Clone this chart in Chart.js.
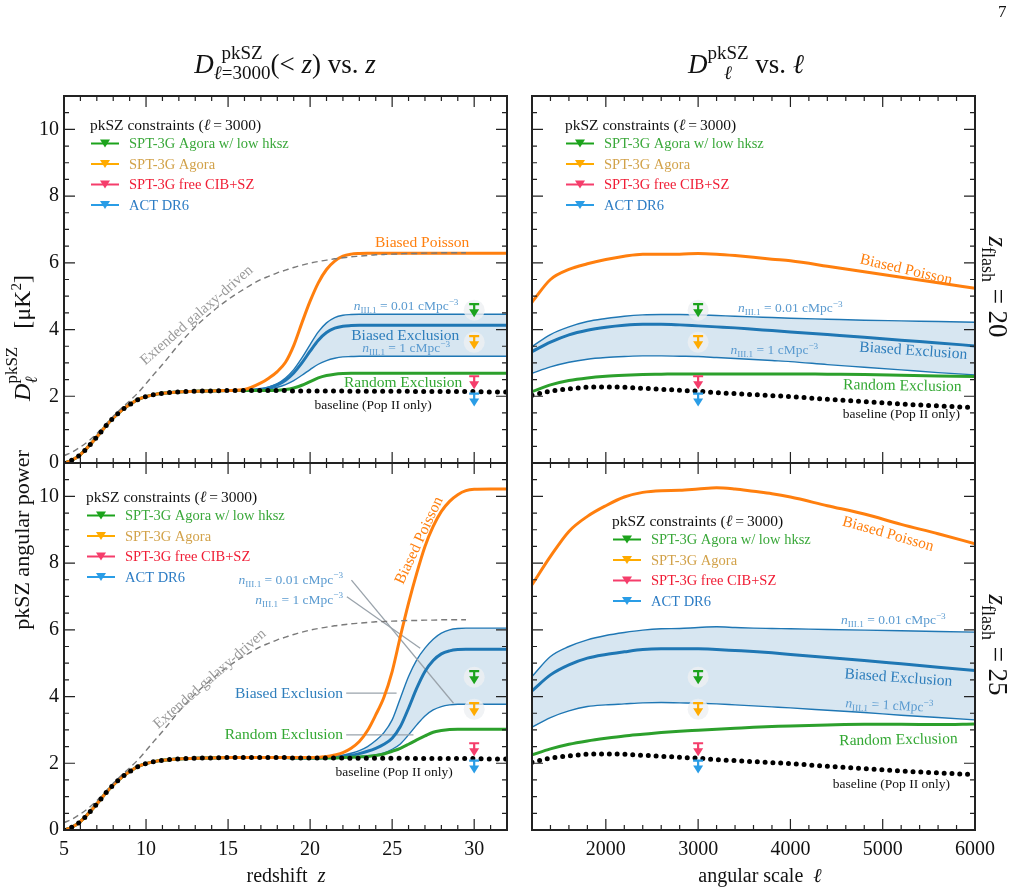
<!DOCTYPE html>
<html>
<head>
<meta charset="utf-8">
<script src="https://cdn.jsdelivr.net/npm/chart.js@4.4.0/dist/chart.umd.min.js"></script>
<style>
  body { margin: 0; background: #fff; }
  #wrap { position: relative; width: 1028px; height: 894px; overflow: hidden;
          font-family: "Liberation Serif", serif; color: #111; }
  canvas { position: absolute; left: 0; top: 0; }
  .t { position: absolute; white-space: nowrap; }
  .st { display: inline-flex; flex-direction: column; line-height: 20px; vertical-align: 14px; }
</style>
</head>
<body>
<div id="wrap">
  <canvas id="tl" width="1028" height="894"></canvas>
  <canvas id="tr" width="1028" height="894"></canvas>
  <canvas id="bl" width="1028" height="894"></canvas>
  <canvas id="br" width="1028" height="894"></canvas>

  <div class="t" style="left:85px;top:43px;width:400px;text-align:center;font-size:27px">
    <i>D</i><span class="st" style="font-size:19px"><span>pkSZ</span><span><i>ℓ</i>=3000</span></span>(&lt; <i>z</i>) vs. <i>z</i>
  </div>
  <div class="t" style="left:546px;top:43px;width:400px;text-align:center;font-size:27px">
    <i>D</i><span class="st" style="font-size:19px"><span>pkSZ</span><span><i>ℓ</i></span></span> vs. <i>ℓ</i>
  </div>
  <div class="t" style="left:22px;top:540px;transform:translate(-50%,-50%) rotate(-90deg);font-size:22px">pkSZ angular power</div>
  <div class="t" style="left:22px;top:338px;transform:translate(-50%,-50%) rotate(-90deg);font-size:24px">
    <i>D</i><span class="st" style="font-size:17px;vertical-align:13px"><span>pkSZ</span><span><i>ℓ</i></span></span>&nbsp;&nbsp;&nbsp;[μK<sup style="font-size:15px">2</sup>]
  </div>
  <div class="t" style="left:995px;top:287px;transform:translate(-50%,-50%) rotate(90deg);font-size:27px">
    <i>z</i><sub style="font-size:18px">flash</sub> = 20
  </div>
  <div class="t" style="left:995px;top:645px;transform:translate(-50%,-50%) rotate(90deg);font-size:27px">
    <i>z</i><sub style="font-size:18px">flash</sub> = 25
  </div>
  <div class="t" style="left:186px;top:864px;width:200px;text-align:center;font-size:20px">redshift&nbsp;&nbsp;<i>z</i></div>
  <div class="t" style="left:660px;top:864px;width:200px;text-align:center;font-size:20px">angular scale&nbsp;&nbsp;<i>ℓ</i></div>
  <div class="t" style="left:998px;top:2px;font-size:17px">7</div>
</div>

<script>
// redshift grid (left panels)
const Z = [5, 5.5, 6, 6.5, 7, 7.5, 8, 8.5, 9, 9.5, 10, 10.5, 11, 12, 13, 14, 15, 16, 17, 17.5,
  18, 18.5, 19, 19.5, 20, 20.5, 21, 21.5, 22, 22.5, 23, 23.5, 24, 24.5, 25, 25.5, 26, 26.5,
  27, 27.5, 28, 28.5, 29, 29.5, 30, 31, 32];

const BASE_Z = [0, 0.09, 0.25, 0.5, 0.78, 1.08, 1.35, 1.57, 1.75, 1.9, 1.99, 2.05, 2.09, 2.13,
  2.15, 2.16, 2.17, 2.17, 2.17, 2.17, 2.17, 2.17, 2.16, 2.16, 2.16, 2.16, 2.16, 2.16, 2.16,
  2.15, 2.15, 2.15, 2.15, 2.15, 2.15, 2.15, 2.15, 2.14, 2.14, 2.14, 2.14, 2.14, 2.14, 2.14,
  2.14, 2.13, 2.13];

const GALAXY_Z = [0.22, 0.33, 0.48, 0.66, 0.88, 1.14, 1.4, 1.64, 1.86, 2.1, 2.38, 2.67, 2.95,
  3.55, 4.08, 4.52, 4.9, 5.22, 5.5, 5.6, 5.7, 5.78, 5.86, 5.93, 5.99, 6.04, 6.08, 6.12, 6.15,
  6.18, 6.2, 6.22, 6.24, 6.25, 6.26, 6.27, 6.28, 6.28, 6.29, 6.29, 6.3, 6.3, 6.3, 6.3,
  null, null, null];

// z_flash = 20
const POISSON_Z20 = [0, 0.09, 0.25, 0.5, 0.78, 1.08, 1.35, 1.57, 1.75, 1.9, 1.99, 2.05, 2.09,
  2.13, 2.15, 2.16, 2.17, 2.2, 2.4, 2.55, 2.74, 3.02, 3.52, 4.2, 4.85, 5.4, 5.8, 6.05, 6.2,
  6.26, 6.28, 6.29, 6.29, 6.29, 6.29, 6.29, 6.29, 6.29, 6.29, 6.29, 6.29, 6.29, 6.29, 6.29,
  6.29, 6.29, 6.29];
const EXCL_HI_Z20 = [0, 0.09, 0.25, 0.5, 0.78, 1.08, 1.35, 1.57, 1.75, 1.9, 1.99, 2.05, 2.09,
  2.13, 2.15, 2.16, 2.17, 2.18, 2.22, 2.28, 2.38, 2.55, 2.8, 3.15, 3.55, 3.93, 4.2, 4.36, 4.43,
  4.45, 4.46, 4.46, 4.46, 4.46, 4.46, 4.46, 4.46, 4.46, 4.46, 4.46, 4.46, 4.46, 4.46, 4.46,
  4.46, 4.46, 4.46];
const EXCL_Z20 = [0, 0.09, 0.25, 0.5, 0.78, 1.08, 1.35, 1.57, 1.75, 1.9, 1.99, 2.05, 2.09,
  2.13, 2.15, 2.16, 2.17, 2.18, 2.21, 2.26, 2.34, 2.48, 2.7, 3.0, 3.35, 3.68, 3.91, 4.04, 4.1,
  4.12, 4.13, 4.13, 4.13, 4.13, 4.13, 4.13, 4.13, 4.13, 4.13, 4.13, 4.13, 4.13, 4.13, 4.13,
  4.13, 4.13, 4.13];
const EXCL_LO_Z20 = [0, 0.09, 0.25, 0.5, 0.78, 1.08, 1.35, 1.57, 1.75, 1.9, 1.99, 2.05, 2.09,
  2.13, 2.15, 2.16, 2.17, 2.17, 2.19, 2.22, 2.27, 2.35, 2.47, 2.63, 2.8, 2.96, 3.07, 3.14, 3.18,
  3.19, 3.2, 3.2, 3.2, 3.2, 3.2, 3.2, 3.2, 3.2, 3.2, 3.2, 3.2, 3.2, 3.2, 3.2, 3.2, 3.2, 3.2];
const RANDOM_Z20 = [0, 0.09, 0.25, 0.5, 0.78, 1.08, 1.35, 1.57, 1.75, 1.9, 1.99, 2.05, 2.09,
  2.13, 2.15, 2.16, 2.17, 2.17, 2.17, 2.17, 2.18, 2.2, 2.25, 2.33, 2.44, 2.55, 2.62, 2.66, 2.68,
  2.69, 2.69, 2.69, 2.69, 2.69, 2.69, 2.69, 2.69, 2.69, 2.69, 2.69, 2.69, 2.69, 2.69, 2.69,
  2.69, 2.69, 2.69];

// z_flash = 25
const POISSON_Z25 = [0, 0.09, 0.25, 0.5, 0.78, 1.08, 1.35, 1.57, 1.75, 1.9, 1.99, 2.05, 2.09,
  2.13, 2.15, 2.16, 2.17, 2.17, 2.17, 2.17, 2.17, 2.17, 2.17, 2.17, 2.17, 2.18, 2.2, 2.25, 2.32,
  2.45, 2.65, 2.98, 3.45, 3.98, 4.75, 5.8, 6.8, 7.7, 8.5, 9.1, 9.55, 9.85, 10.05, 10.17, 10.21,
  10.22, 10.22];
const EXCL_HI_Z25 = [0, 0.09, 0.25, 0.5, 0.78, 1.08, 1.35, 1.57, 1.75, 1.9, 1.99, 2.05, 2.09,
  2.13, 2.15, 2.16, 2.17, 2.17, 2.17, 2.17, 2.17, 2.17, 2.16, 2.16, 2.16, 2.17, 2.18, 2.2, 2.24,
  2.3, 2.38, 2.5, 2.68, 2.92, 3.3, 3.95, 4.6, 5.1, 5.45, 5.72, 5.9, 6.0, 6.04, 6.05, 6.05,
  6.05, 6.05];
const EXCL_Z25 = [0, 0.09, 0.25, 0.5, 0.78, 1.08, 1.35, 1.57, 1.75, 1.9, 1.99, 2.05, 2.09,
  2.13, 2.15, 2.16, 2.17, 2.17, 2.17, 2.17, 2.17, 2.17, 2.16, 2.16, 2.16, 2.16, 2.17, 2.18, 2.21,
  2.24, 2.29, 2.36, 2.45, 2.57, 2.75, 3.1, 3.65, 4.25, 4.75, 5.08, 5.28, 5.37, 5.41, 5.42, 5.42,
  5.42, 5.42];
const EXCL_LO_Z25 = [0, 0.09, 0.25, 0.5, 0.78, 1.08, 1.35, 1.57, 1.75, 1.9, 1.99, 2.05, 2.09,
  2.13, 2.15, 2.16, 2.17, 2.17, 2.17, 2.17, 2.17, 2.17, 2.16, 2.16, 2.16, 2.16, 2.16, 2.17, 2.18,
  2.19, 2.2, 2.22, 2.25, 2.31, 2.42, 2.58, 2.85, 3.15, 3.42, 3.6, 3.7, 3.75, 3.77, 3.77, 3.77,
  3.77, 3.77];
const RANDOM_Z25 = [0, 0.09, 0.25, 0.5, 0.78, 1.08, 1.35, 1.57, 1.75, 1.9, 1.99, 2.05, 2.09,
  2.13, 2.15, 2.16, 2.17, 2.17, 2.17, 2.17, 2.17, 2.17, 2.16, 2.16, 2.16, 2.16, 2.16, 2.16, 2.17,
  2.18, 2.19, 2.2, 2.23, 2.28, 2.36, 2.45, 2.57, 2.7, 2.82, 2.93, 2.98, 3.01, 3.02, 3.02, 3.02,
  3.02, 3.02];

// angular scale grid (right panels)
const ELL = [1200, 1400, 1600, 1800, 2000, 2200, 2400, 2600, 2800, 3000, 3200, 3400, 3600,
  3800, 4000, 4400, 4800, 5200, 5600, 6000];
const BASE_ELL = [2.03, 2.15, 2.22, 2.27, 2.28, 2.27, 2.24, 2.21, 2.18, 2.15, 2.11, 2.08, 2.05,
  2.02, 1.99, 1.91, 1.84, 1.77, 1.71, 1.66];
const POISSON_ELL20 = [4.82, 5.5, 5.8, 5.97, 6.1, 6.2, 6.26, 6.26, 6.26, 6.28, 6.26, 6.22, 6.17,
  6.11, 6.06, 5.9, 5.73, 5.57, 5.4, 5.24];
const EXCL_HI_ELL20 = [3.49, 3.85, 4.08, 4.24, 4.33, 4.4, 4.44, 4.45, 4.45, 4.44, 4.42, 4.4,
  4.38, 4.36, 4.34, 4.31, 4.28, 4.26, 4.24, 4.22];
const EXCL_ELL20 = [3.34, 3.62, 3.84, 3.98, 4.07, 4.13, 4.16, 4.16, 4.14, 4.11, 4.08, 4.05,
  4.01, 3.97, 3.93, 3.85, 3.77, 3.68, 3.6, 3.51];
const EXCL_LO_ELL20 = [2.69, 2.88, 3.02, 3.11, 3.16, 3.19, 3.21, 3.21, 3.2, 3.19, 3.16, 3.13,
  3.1, 3.07, 3.04, 2.95, 2.87, 2.79, 2.71, 2.64];
const RANDOM_ELL20 = [2.14, 2.34, 2.47, 2.55, 2.6, 2.63, 2.65, 2.66, 2.67, 2.67, 2.67, 2.67,
  2.67, 2.67, 2.67, 2.66, 2.65, 2.63, 2.61, 2.59];
const POISSON_ELL25 = [7.35, 8.2, 8.95, 9.4, 9.72, 9.98, 10.12, 10.17, 10.18, 10.22, 10.26,
  10.22, 10.15, 10.08, 9.98, 9.72, 9.47, 9.16, 8.88, 8.58];
const EXCL_HI_ELL25 = [4.6, 5.2, 5.5, 5.7, 5.83, 5.92, 5.99, 6.03, 6.04, 6.07, 6.09, 6.07, 6.05,
  6.04, 6.03, 6.01, 5.99, 5.97, 5.95, 5.93];
const EXCL_ELL25 = [4.17, 4.65, 4.95, 5.15, 5.26, 5.34, 5.41, 5.43, 5.43, 5.43, 5.41, 5.38,
  5.35, 5.31, 5.26, 5.17, 5.08, 4.98, 4.88, 4.78];
const EXCL_LO_ELL25 = [3.08, 3.37, 3.57, 3.7, 3.75, 3.78, 3.81, 3.82, 3.81, 3.8, 3.78, 3.75,
  3.72, 3.69, 3.66, 3.59, 3.52, 3.44, 3.37, 3.3];
const RANDOM_ELL25 = [2.25, 2.43, 2.57, 2.67, 2.75, 2.82, 2.87, 2.92, 2.96, 2.99, 3.02, 3.05,
  3.08, 3.1, 3.12, 3.15, 3.17, 3.17, 3.16, 3.18];

// pkSZ upper limits at l = 3000
const LIMIT_NAMES = ["SPT-3G Agora w/ low hksz", "SPT-3G Agora", "SPT-3G free CIB+SZ", "ACT DR6"];
const LIMITS = [4.76, 3.8, 2.6, 2.08];
const LIMIT_Z = 30;
const LIMIT_ELL = 3000;

const Z_TICKS = [5, 10, 15, 20, 25, 30];
const ELL_TICKS = [2000, 3000, 4000, 5000, 6000];
const D_TICKS = [0, 2, 4, 6, 8, 10];

// leader lines in the z_flash = 25 redshift panel (z, D pairs)
const LEADERS_Z25 = [
  [[22.52, 7.49], [28.74, 3.8]],
  [[22.24, 6.99], [26.71, 5.45]],
  [[22.2, 4.1], [25.27, 4.1]],
  [[22.2, 2.85], [26.3, 2.85]],
];

const ORANGE = "#ff7f0e";
const BLUE = "#1f77b4";
const GREEN = "#2ca02c";
const BAND = "rgba(31,119,180,0.18)";
const LIMIT_COLORS = ["#1ca31c", "#ffab00", "#f53d6b", "#2a9de6"];
const LIMIT_TEXT = ["#3aa83a", "#d2a24a", "#f01d35", "#2c7cc4"];
const FONT = '"Liberation Serif", serif';

const pts = (xs, ys) => xs.map((x, i) => ({ x: x, y: ys[i] }));

function curves(xs, base, poisson, hi, mid, lo, random, galaxy, dot) {
  const sets = [
    { data: pts(xs, hi), borderColor: BLUE, borderWidth: 1.4, backgroundColor: BAND, fill: 2, order: 9 },
    { data: pts(xs, mid), borderColor: BLUE, borderWidth: 3, order: 6 },
    { data: pts(xs, lo), borderColor: BLUE, borderWidth: 1.4, order: 8 },
    { data: pts(xs, random), borderColor: GREEN, borderWidth: 3, order: 5 },
    { data: pts(xs, poisson), borderColor: ORANGE, borderWidth: 3, order: 4 },
    { data: pts(xs, base), borderColor: "#000", borderWidth: 5, borderDash: [0, dot],
      borderCapStyle: "round", order: 1 },
  ];
  if (galaxy) {
    sets.push({ data: pts(xs, galaxy), borderColor: "#7a7a7a", borderWidth: 1.4,
      borderDash: [6, 4], order: 3 });
  }
  return sets;
}

function nLabel(val) {
  return [{ t: "n", i: true }, { t: "III.1", k: 0.68, dy: 0.22 }, { t: " = " + val + " cMpc" },
    { t: "\u22123", k: 0.68, dy: -0.42 }];
}

function richDraw(ctx, parts, px, py, size, color, align, rot) {
  ctx.save();
  ctx.translate(px, py);
  ctx.rotate(((rot || 0) * Math.PI) / 180);
  ctx.fillStyle = color;
  ctx.textBaseline = "alphabetic";
  const fonts = parts.map((p) => (p.i ? "italic " : "") + size * (p.k || 1) + "px " + FONT);
  let w = 0;
  parts.forEach((p, j) => {
    ctx.font = fonts[j];
    w += ctx.measureText(p.t).width;
  });
  let x0 = align === "right" ? -w : align === "left" ? 0 : -w / 2;
  parts.forEach((p, j) => {
    ctx.font = fonts[j];
    ctx.fillText(p.t, x0, size * 0.34 + (p.dy || 0) * size);
    x0 += ctx.measureText(p.t).width;
  });
  ctx.restore();
}

function downTri(ctx, x, y, w, h) {
  ctx.beginPath();
  ctx.moveTo(x - w / 2, y);
  ctx.lineTo(x + w / 2, y);
  ctx.lineTo(x, y + h);
  ctx.closePath();
  ctx.fill();
}

const panelPlugin = {
  id: "panel",
  afterDatasetsDraw(chart, args, o) {
    const { ctx, chartArea: a } = chart;
    const xs = chart.scales.x, ys = chart.scales.y;
    const X = (v) => xs.getPixelForValue(v), Y = (v) => ys.getPixelForValue(v);
    ctx.save();

    // curve labels
    o.labels.forEach((l) => {
      richDraw(ctx, l.parts || [{ t: l.t }], X(l.x), Y(l.y), l.s, l.c, l.a || "center", l.r || 0);
    });

    // upper limits at l = 3000
    const lx = X(o.limitX);
    LIMITS.forEach((v, i) => {
      const py = Y(v);
      if (i < 2) {
        ctx.fillStyle = "rgba(238,240,242,0.8)";
        ctx.beginPath();
        ctx.arc(lx, py + 6, 10.5, 0, 2 * Math.PI);
        ctx.fill();
      }
      ctx.strokeStyle = LIMIT_COLORS[i];
      ctx.fillStyle = LIMIT_COLORS[i];
      ctx.lineWidth = 2.2;
      ctx.beginPath();
      ctx.moveTo(lx - 5, py); ctx.lineTo(lx + 5, py);
      ctx.moveTo(lx, py); ctx.lineTo(lx, py + 7);
      ctx.stroke();
      downTri(ctx, lx, py + 5, 10, 8);
    });

    // legend
    const g = o.legend;
    richDraw(ctx, [{ t: "pkSZ constraints (" }, { t: "\u2113", i: true }, { t: "\u2009=\u20093000)" }],
      a.left + g.dx, a.top + g.dy, 15.5, "#111", "left", 0);
    LIMIT_NAMES.forEach((name, i) => {
      const ry = a.top + g.dy + 18.5 + i * 20.5;
      const x0 = a.left + g.dx + 1;
      ctx.strokeStyle = LIMIT_COLORS[i];
      ctx.fillStyle = LIMIT_COLORS[i];
      ctx.lineWidth = 2;
      ctx.beginPath();
      ctx.moveTo(x0, ry); ctx.lineTo(x0 + 28, ry);
      ctx.stroke();
      downTri(ctx, x0 + 14, ry - 4, 10, 8);
      richDraw(ctx, [{ t: name }], x0 + 38, ry, 14.5, LIMIT_TEXT[i], "left", 0);
    });

    // inward ticks on all four sides, then the frame
    ctx.strokeStyle = "#222";
    ctx.lineWidth = 1.2;
    ctx.beginPath();
    const xt = (v, len) => {
      const p = X(v);
      ctx.moveTo(p, a.bottom); ctx.lineTo(p, a.bottom - len);
      ctx.moveTo(p, a.top); ctx.lineTo(p, a.top + len);
    };
    const yt = (v, len) => {
      const p = Y(v);
      ctx.moveTo(a.left, p); ctx.lineTo(a.left + len, p);
      ctx.moveTo(a.right, p); ctx.lineTo(a.right - len, p);
    };
    for (let v = xs.min; v <= xs.max + 1e-9; v += o.xMinor) xt(v, 5);
    o.xMajor.forEach((v) => xt(v, 11));
    for (let v = 0.5; v < 11; v += 0.5) yt(v, 5);
    D_TICKS.forEach((v) => yt(v, 11));
    ctx.stroke();
    ctx.lineWidth = 2;
    ctx.strokeRect(a.left, a.top, a.right - a.left, a.bottom - a.top);
    ctx.restore();
  },
};

function makeChart(id, p) {
  const axisFont = { family: FONT, size: 20 };
  return new Chart(document.getElementById(id), {
    type: "line",
    data: { datasets: p.datasets },
    options: {
      responsive: false,
      animation: false,
      devicePixelRatio: 1,
      layout: { padding: p.pad },
      elements: { point: { radius: 0 }, line: { cubicInterpolationMode: "monotone" } },
      plugins: {
        legend: { display: false },
        tooltip: { enabled: false },
        panel: { labels: p.labels, legend: p.legend, limitX: p.limitX, xMajor: p.xTicks,
          xMinor: p.xMinor },
      },
      scales: {
        x: {
          type: "linear", min: p.xMin, max: p.xMax, display: p.showX,
          afterFit: (s) => { s.height = p.showX ? 40 : 0; },
          afterBuildTicks: (s) => { s.ticks = p.xTicks.map((v) => ({ value: v })); },
          grid: { display: false, drawTicks: false }, border: { display: false },
          ticks: { font: axisFont, color: "#111", padding: 8, maxRotation: 0, autoSkip: false,
            callback: (v) => String(v) },
        },
        y: {
          type: "linear", min: 0, max: 11, display: p.showY,
          afterFit: (s) => { s.width = p.showY ? 64 : 0; },
          afterBuildTicks: (s) => { s.ticks = D_TICKS.map((v) => ({ value: v })); },
          grid: { display: false, drawTicks: false }, border: { display: false },
          ticks: { font: axisFont, color: "#111", padding: 5, callback: (v) => String(v) },
        },
      },
    },
    plugins: [panelPlugin],
  });
}

const BLUE_TXT = "#2e7ebc", N_TXT = "#5b9bd0", GREEN_TXT = "#33a833";

makeChart("tl", {
  datasets: curves(Z, BASE_Z, POISSON_Z20, EXCL_HI_Z20, EXCL_Z20, EXCL_LO_Z20, RANDOM_Z20, GALAXY_Z, 8.2),
  pad: { left: 0, top: 96, right: 521, bottom: 431 },
  showX: false, showY: true, xMin: 5, xMax: 32, xTicks: Z_TICKS, xMinor: 1, limitX: LIMIT_Z,
  legend: { dx: 26, dy: 29 },
  labels: [
    { t: "Biased Poisson", x: 26.83, y: 6.62, s: 15.5, c: ORANGE },
    { parts: nLabel("0.01"), x: 25.85, y: 4.71, s: 13.5, c: N_TXT },
    { t: "Biased Exclusion", x: 25.8, y: 3.84, s: 15.5, c: BLUE_TXT },
    { parts: nLabel("1"), x: 25.85, y: 3.45, s: 13.5, c: N_TXT },
    { t: "Random Exclusion", x: 25.67, y: 2.43, s: 15.5, c: GREEN_TXT },
    { t: "baseline (Pop II only)", x: 23.84, y: 1.77, s: 13.5, c: "#111" },
    { t: "Extended galaxy-driven", x: 13.05, y: 4.45, s: 15, c: "#9a9a9a", r: -41 },
  ],
});

makeChart("tr", {
  datasets: curves(ELL, BASE_ELL, POISSON_ELL20, EXCL_HI_ELL20, EXCL_ELL20, EXCL_LO_ELL20, RANDOM_ELL20, null, 7.8),
  pad: { left: 532, top: 96, right: 53, bottom: 431 },
  showX: false, showY: false, xMin: 1200, xMax: 6000, xTicks: ELL_TICKS, xMinor: 200, limitX: LIMIT_ELL,
  legend: { dx: 33, dy: 29 },
  labels: [
    { t: "Biased Poisson", x: 5256, y: 5.82, s: 15.5, c: ORANGE, r: 13 },
    { parts: nLabel("0.01"), x: 3998, y: 4.65, s: 13.5, c: N_TXT },
    { t: "Biased Exclusion", x: 5332, y: 3.39, s: 15.5, c: BLUE_TXT, r: 4 },
    { parts: nLabel("1"), x: 3825, y: 3.39, s: 13.5, c: N_TXT },
    { t: "Random Exclusion", x: 5213, y: 2.34, s: 15.5, c: GREEN_TXT, r: 1 },
    { t: "baseline (Pop II only)", x: 5202, y: 1.5, s: 13.5, c: "#111" },
  ],
});

const blSets = curves(Z, BASE_Z, POISSON_Z25, EXCL_HI_Z25, EXCL_Z25, EXCL_LO_Z25, RANDOM_Z25, GALAXY_Z, 8.2);
LEADERS_Z25.forEach((seg) => {
  blSets.push({ data: seg.map((q) => ({ x: q[0], y: q[1] })), borderColor: "#9aa3ab",
    borderWidth: 1.3, order: 7, cubicInterpolationMode: "default" });
});

makeChart("bl", {
  datasets: blSets,
  pad: { left: 0, top: 463, right: 521, bottom: 24 },
  showX: true, showY: true, xMin: 5, xMax: 32, xTicks: Z_TICKS, xMinor: 1, limitX: LIMIT_Z,
  legend: { dx: 22, dy: 34 },
  labels: [
    { t: "Biased Poisson", x: 26.59, y: 8.69, s: 15.5, c: ORANGE, r: -65 },
    { parts: nLabel("0.01"), x: 22.01, y: 7.52, s: 13.5, c: N_TXT, a: "right" },
    { parts: nLabel("1"), x: 22.01, y: 6.92, s: 13.5, c: N_TXT, a: "right" },
    { t: "Biased Exclusion", x: 22.01, y: 4.11, s: 15.5, c: BLUE_TXT, a: "right" },
    { t: "Random Exclusion", x: 22.01, y: 2.88, s: 15.5, c: GREEN_TXT, a: "right" },
    { t: "baseline (Pop II only)", x: 25.12, y: 1.77, s: 13.5, c: "#111" },
    { t: "Extended galaxy-driven", x: 13.85, y: 4.55, s: 15, c: "#9a9a9a", r: -41 },
  ],
});

makeChart("br", {
  datasets: curves(ELL, BASE_ELL, POISSON_ELL25, EXCL_HI_ELL25, EXCL_ELL25, EXCL_LO_ELL25, RANDOM_ELL25, null, 7.8),
  pad: { left: 532, top: 463, right: 53, bottom: 24 },
  showX: true, showY: false, xMin: 1200, xMax: 6000, xTicks: ELL_TICKS, xMinor: 200, limitX: LIMIT_ELL,
  legend: { dx: 80, dy: 58 },
  labels: [
    { t: "Biased Poisson", x: 5061, y: 8.9, s: 15.5, c: ORANGE, r: 16 },
    { parts: nLabel("0.01"), x: 5115, y: 6.3, s: 13.5, c: N_TXT },
    { t: "Biased Exclusion", x: 5170, y: 4.59, s: 15.5, c: BLUE_TXT, r: 4 },
    { parts: nLabel("1"), x: 5072, y: 3.75, s: 13.5, c: N_TXT, r: 3 },
    { t: "Random Exclusion", x: 5170, y: 2.73, s: 15.5, c: GREEN_TXT, r: -1 },
    { t: "baseline (Pop II only)", x: 5094, y: 1.41, s: 13.5, c: "#111" },
  ],
});
</script>
</body>
</html>
